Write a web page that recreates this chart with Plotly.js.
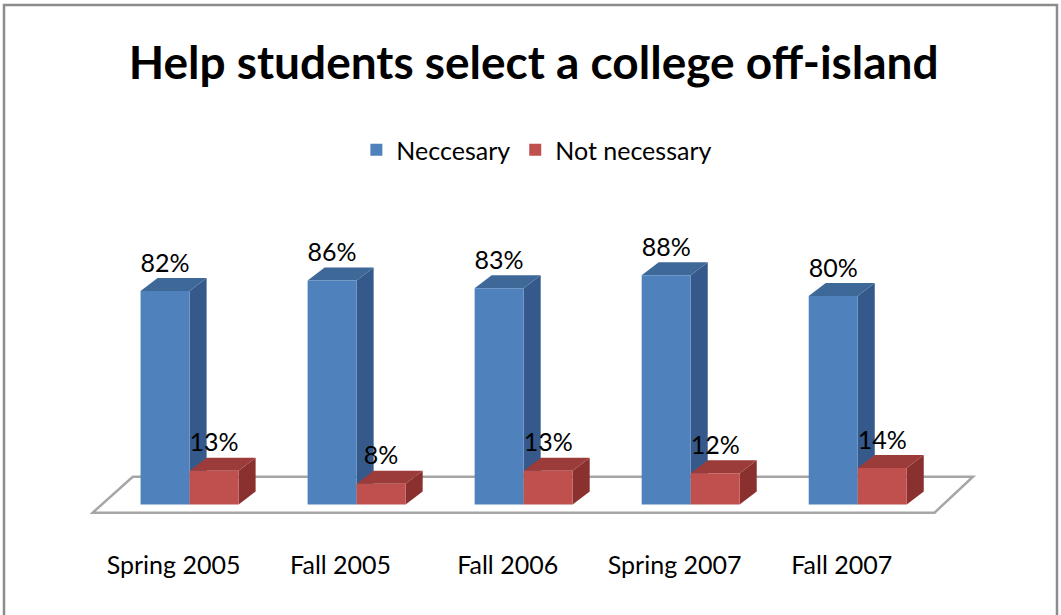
<!DOCTYPE html>
<html>
<head>
<meta charset="utf-8">
<script src="https://cdn.plot.ly/plotly-3.0.1.min.js"></script>
<style>html,body{margin:0;padding:0;background:#fff;}#chart{width:1061px;height:615px;}</style>
</head>
<body>
<div id="chart"></div>
<script>
// ---- data ----
const categories = ["Spring 2005", "Fall 2005", "Fall 2006", "Spring 2007", "Fall 2007"];
const necessary = [82, 86, 83, 88, 80];
const notNecessary = [13, 8, 13, 12, 14];
const seriesNames = ["Neccesary", "Not necessary"];

// ---- style ----
const FONT = "Lato, Calibri, 'Open Sans', sans-serif";
const frontColors = ["#4F81BD", "#C0504D"];
const sideColors = ["#34598A", "#8A302E"];
const topColors = ["#3E6898", "#9B3C3A"];

const margin = {l: 81, r: 78, t: 244, b: 100};
const W = 1061, H = 615;
const xRange = [-0.65, 4.75];
const yRange = [-4, 100];
const barW = 0.2934;          // width of one bar in category units
const depthX = 0.102;         // 3D depth offset (x units)
const depthY = 5.0;           // 3D depth offset (y units)

const xs = categories.map((c, i) => i);
const series = [necessary, notNecessary];
const offsets = [-barW / 2, barW / 2];

const traces = [];
series.forEach((vals, s) => {
  traces.push({
    type: "bar", x: xs, y: vals, name: seriesNames[s],
    marker: {color: frontColors[s], line: {width: 0}},
    hoverinfo: "skip"
  });
});
// data labels
series.forEach((vals, s) => {
  traces.push({
    type: "scatter", mode: "text", showlegend: false, hoverinfo: "skip",
    x: xs.map(x => x + offsets[s]),
    y: vals.map(v => v + depthY),
    text: vals.map(v => v + "%"),
    textposition: "top center",
    textfont: {family: FONT, size: 25, color: "#000"},
    cliponaxis: false
  });
});

// 3D faces computed from data
const shapes = [];
// floor
const floorFront = -3.1, floorBack = 10.7;
shapes.push({
  type: "path", xref: "x", yref: "y", layer: "below",
  path: `M ${xRange[0] + 0.07} ${floorFront} L ${xRange[1] - 0.29} ${floorFront} L ${xRange[1] - 0.06} ${floorBack} L ${xRange[0] + 0.31} ${floorBack} Z`,
  fillcolor: "#ffffff", line: {color: "#a6a6a6", width: 2.5}
});
xs.forEach((x, i) => {
  series.forEach((vals, s) => {
    const v = vals[i];
    const c = x + offsets[s];
    const L = c - barW / 2, R = c + barW / 2;
    shapes.push({
      type: "path", xref: "x", yref: "y", layer: "below",
      path: `M ${R} 0 L ${R} ${v} L ${R + depthX} ${v + depthY} L ${R + depthX} ${depthY} Z`,
      fillcolor: sideColors[s], line: {width: 0}
    });
    shapes.push({
      type: "path", xref: "x", yref: "y", layer: "below",
      path: `M ${L} ${v} L ${R} ${v} L ${R + depthX} ${v + depthY} L ${L + depthX} ${v + depthY} Z`,
      fillcolor: topColors[s], line: {width: 0}
    });
  });
});
// outer chart border
const pw = W - margin.l - margin.r, ph = H - margin.t - margin.b;
shapes.push({
  type: "rect", xref: "paper", yref: "paper", layer: "above",
  x0: (4 - margin.l) / pw, x1: (1057 - margin.l) / pw,
  y0: (H - margin.b - 640) / ph, y1: (H - margin.b - 5) / ph,
  line: {color: "#8c8c8c", width: 2.5}, fillcolor: "rgba(0,0,0,0)"
});

const layout = {
  width: W, height: H, margin: margin,
  paper_bgcolor: "#fff", plot_bgcolor: "rgba(0,0,0,0)",
  title: {text: "<b>Help students select a college off-island</b>",
          font: {family: FONT, size: 46, color: "#000"},
          x: 0.503, xref: "container", xanchor: "center",
          y: 1 - 63 / H, yref: "container", yanchor: "middle"},
  barmode: "group", bargap: 1 - 2 * barW, bargroupgap: 0,
  xaxis: {range: xRange, tickvals: xs, ticktext: categories,
          showgrid: false, zeroline: false, showline: false, ticks: "",
          tickfont: {family: FONT, size: 25, color: "#000"},
          ticklabelshift: -16, ticklabelstandoff: 33, fixedrange: true},
  yaxis: {range: yRange, visible: false, showgrid: false, zeroline: false, fixedrange: true},
  legend: {orientation: "h", xref: "container", yref: "container",
           x: 0.506, xanchor: "center", y: 1 - 150 / H, yanchor: "middle",
           font: {family: FONT, size: 25, color: "#000"}, itemwidth: 30,
           traceorder: "normal"},
  shapes: shapes,
  showlegend: true
};

Plotly.newPlot("chart", traces, layout, {staticPlot: true, displayModeBar: false});
</script>
</body>
</html>
